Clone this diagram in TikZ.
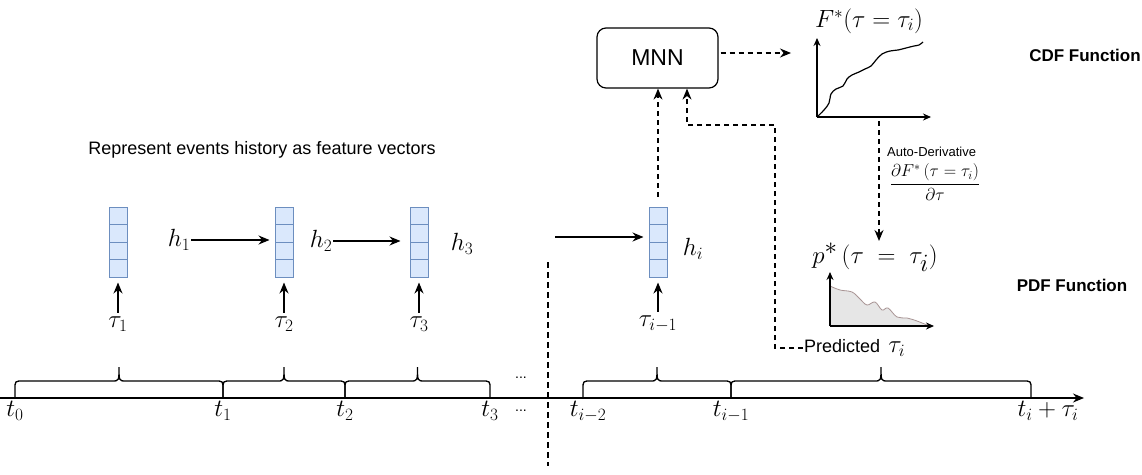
\documentclass[tikz,border=0pt]{standalone}
\usepackage[no-math]{fontspec}
\setmainfont{Liberation Sans}
\usepackage{amsmath}
\usetikzlibrary{arrows.meta,positioning,calc}

\definecolor{vecfill}{HTML}{DAE8FC}
\definecolor{vecdraw}{HTML}{6C8EBF}
\definecolor{pdffill}{HTML}{E6E6E6}
\definecolor{pdfline}{HTML}{A89494}

% curly brace over one interval of the time axis
\newcommand{\tbrace}[2]{%
  \draw[line width=1.3pt] (#1,398) -- (#1,389) .. controls (#1,381) .. (#1+8,381)
    -- ({(#1+#2)/2-7},381) .. controls ({(#1+#2)/2},381) .. ({(#1+#2)/2},367)
    .. controls ({(#1+#2)/2},381) .. ({(#1+#2)/2+7},381)
    -- (#2-8,381) .. controls (#2,381) .. (#2,389) -- (#2,398);}

\begin{document}
\begin{tikzpicture}[x=1pt,y=-1pt,
    >={Stealth[length=11pt,width=9pt]},
    every node/.style={inner sep=1pt},
    mathlbl/.style={font=\fontsize{27}{31}\selectfont},
    boldlbl/.style={font=\bfseries\fontsize{17}{20}\selectfont},
    featvec/.style={draw=vecdraw, fill=vecfill, line width=1pt,
        minimum width=18pt, minimum height=70pt, inner sep=0pt,
        path picture={\foreach \k in {1,2,3}{
            \draw[vecdraw, line width=1pt]
              ($(path picture bounding box.south west)!\k/4!(path picture bounding box.north west)$) --
              ($(path picture bounding box.south east)!\k/4!(path picture bounding box.north east)$);}}},
    solidarr/.style={->, line width=1.3pt},
    dasharr/.style={->, line width=1.3pt, dash pattern=on 5pt off 4pt},
    smallarr/.style={-{Stealth[length=8pt,width=7pt]}, line width=1.2pt},
    divline/.style={line width=1.2pt, dash pattern=on 6pt off 4pt},
]
    \useasboundingbox (0,0) rectangle (1142,474);

    % Time axis
    \coordinate (tl0) at (0,398);
    \coordinate (tlend) at (1084,398);
    \draw[->, line width=1.3pt] (tl0) -- (tlend);

    % Braces
    \tbrace{15}{223}
    \tbrace{223}{345}
    \tbrace{345}{490}
    \tbrace{583}{731}
    \tbrace{731}{1031}

    % Time labels
    \foreach \x/\lbl/\nm in {15/t_0/lt0, 223/t_1/lt1, 345/t_2/lt2, 490/t_3/lt3,
                             588/t_{i-2}/lti2, 731/t_{i-1}/lti1, 1048/t_i+\tau_i/ltend}
        \node[mathlbl, anchor=north] (\nm) at (\x,400) {$\lbl$};

    \node[font=\fontsize{14}{16}\selectfont] (dotsup) at (521,378) {...};
    \node[font=\fontsize{14}{16}\selectfont] (dotsdn) at (521,411) {...};

    % Divider
    \coordinate (divtop) at (548,262);
    \coordinate (divbot) at (548,466);
    \draw[divline] (divtop) -- (divbot);

    % Inter-event times
    \foreach \x/\lbl/\nm in {118/\tau_1/tau1, 284/\tau_2/tau2, 419/\tau_3/tau3, 658/\tau_{i-1}/taui}
        \node[mathlbl] (\nm) at (\x,324) {$\lbl$};

    % Feature vectors
    \node[featvec] (v1) at (118,242) {};
    \node[featvec] (v2) at (284,242) {};
    \node[featvec] (v3) at (419,242) {};
    \node[featvec] (vi) at (658,242) {};

    \draw[solidarr, shorten <=3pt, shorten >=5pt] (tau1) -- (v1);
    \draw[solidarr, shorten <=3pt, shorten >=5pt] (tau2) -- (v2);
    \draw[solidarr, shorten <=3pt, shorten >=5pt] (tau3) -- (v3);
    \draw[solidarr, shorten <=3pt, shorten >=5pt] (taui) -- (vi);

    % Hidden states
    \node[mathlbl] (h1) at (179,240) {$h_1$};
    \node[mathlbl] (h2) at (321,241) {$h_2$};
    \node[mathlbl] (h3) at (462,244) {$h_3$};
    \node[mathlbl] (hi) at (693,249) {$h_i$};

    \draw[solidarr, shorten >=5pt] (h1) -- (h1 -| v2.west);
    \draw[solidarr, shorten >=9pt] (h2) -- (h2 -| v3.west);
    \coordinate (hin) at (555,237);
    \draw[solidarr, shorten >=5pt] (hin) -- (hin -| vi.west);

    \node[font=\fontsize{18}{21}\selectfont] (reptxt) at (262,150) {Represent events history as feature vectors};

    % MNN
    \node[draw, rounded corners=9pt, line width=1.2pt, minimum width=121pt, minimum height=60pt,
          font=\fontsize{23}{26}\selectfont] (mnn) at (657.5,58) {MNN};
    \draw[dasharr, shorten <=10pt] (vi.north) -- (vi.north |- mnn.south);

    % CDF plot
    \coordinate (cdfo) at (817,117);
    \coordinate (cdfy) at (817,38);
    \coordinate (cdfx) at (931,117);
    \draw[smallarr] (cdfo) -- (cdfy);
    \draw[smallarr] (cdfo) -- (cdfx);
    \draw[line width=1.2pt] plot[smooth, tension=0.6] coordinates {(817,117) (824,110) (829,103)
        (831,94) (836,89) (843,86) (847,79) (852,75) (859,72) (865,69) (871,66) (876,60) (882,54)
        (890,51) (898,50) (906,48) (914,46) (919,45) (923,42)};
    \node[font=\fontsize{27}{31}\selectfont] (flbl) at (869,21) {$F^{*}(\tau=\tau_i)$};
    \node[boldlbl] (cdftxt) at (1085,55) {CDF Function};

    \coordinate (cdfin) at (791,53);
    \draw[dasharr, shorten <=2pt] (mnn.east |- cdfin) -- (cdfin);

    % PDF plot
    \node[font=\fontsize{35}{39}\selectfont] (plbl) at (875,257) {$p^{*}\,(\tau\;=\;\tau_i)$};
    \fill[pdffill] (830,326) -- plot[smooth, tension=0.6] coordinates {(830,286) (840,290) (852,292)
        (860,299) (867,305) (875,302) (882,310) (888,308) (897,317) (907,318) (917,321) (927,325)} -- cycle;
    \draw[pdfline, line width=0.8pt] plot[smooth, tension=0.6] coordinates {(830,286) (840,290) (852,292)
        (860,299) (867,305) (875,302) (882,310) (888,308) (897,317) (907,318) (917,321) (927,325)};
    \coordinate (pdfo) at (830,326);
    \coordinate (pdfy) at (830,272);
    \coordinate (pdfx) at (934,326);
    \draw[smallarr] (pdfo) -- (pdfy);
    \draw[smallarr] (pdfo) -- (pdfx);
    \node[boldlbl] (pdftxt) at (1072,285) {PDF Function};

    % Auto-derivative
    \coordinate (adstart) at (879,121);
    \draw[dasharr] (adstart) -- (879,241);
    \node[font=\fontsize{13}{15}\selectfont, anchor=west] (adtxt) at (886,152) {Auto-Derivative};
    \node[font=\fontsize{17}{20}\selectfont] (adfrac) at (935,182)
        {$\dfrac{\partial F^{*}\left(\tau=\tau_i\right)}{\partial\tau}$};

    % Prediction fed back to MNN
    \node[font=\fontsize{18}{21}\selectfont, anchor=west] (pred) at (803,348)
        {Predicted\, \fontsize{25}{29}\selectfont$\tau_i$};
    \coordinate (pbend) at (775,348);
    \coordinate (ptop) at (775,125);
    \coordinate (pin) at (687,125);
    \draw[dasharr] (pred.west) -- (pbend) -- (ptop) -- (pin) -- (pin |- mnn.south);
\end{tikzpicture}
\end{document}
